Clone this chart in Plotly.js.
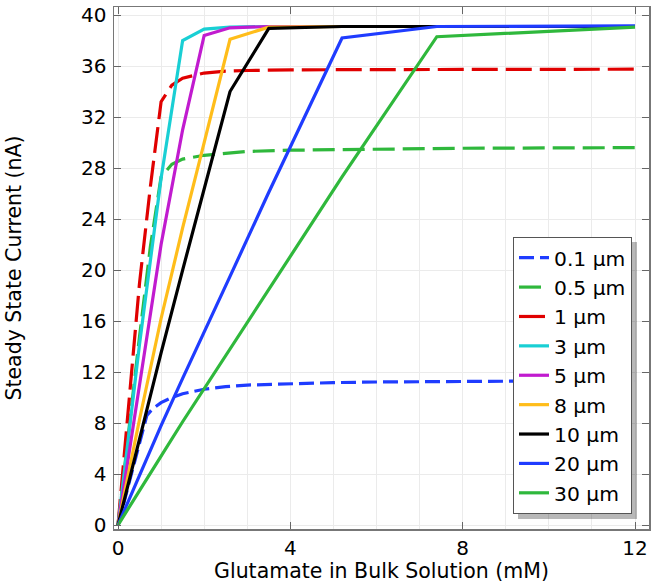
<!DOCTYPE html>
<html>
<head>
<meta charset="utf-8">
<script src="https://cdn.plot.ly/plotly-3.0.1.min.js"></script>
<style>html,body{margin:0;padding:0;background:#fff;}#chart{width:660px;height:585px;}</style>
</head>
<body>
<div id="chart"></div>
<script>
// ---- data ----
const seriesNames = ["0.1 µm", "0.5 µm", "1 µm", "3 µm", "5 µm", "8 µm", "10 µm", "20 µm", "30 µm"];

// dashed curves (small electrodes)
const x_01 = [0, 0.67, 0.8, 1, 1.25, 1.5, 2, 2.5, 3, 4, 5, 6, 8, 10, 12];
const y_01 = [0, 8.6, 9.1, 9.6, 10.0, 10.3, 10.65, 10.85, 10.98, 11.1, 11.17, 11.22, 11.28, 11.3, 11.32];

const x_05 = [0, 0.25, 0.5, 0.75, 1.0, 1.25, 1.5, 2, 2.5, 3, 4, 6, 8, 12];
const y_05 = [0, 7.5, 14.8, 21.8, 27.3, 28.3, 28.7, 29.0, 29.15, 29.3, 29.4, 29.5, 29.55, 29.6];

const x_1 = [0, 0.25, 0.5, 0.75, 1.0, 1.25, 1.5, 2, 2.5, 3, 4, 6, 8, 12];
const y_1 = [0, 9.8, 19.0, 26.5, 33.2, 34.5, 35.05, 35.45, 35.6, 35.65, 35.7, 35.72, 35.74, 35.75];

// solid curves (larger electrodes)
const xSolid = [0, 0.5, 1, 1.5, 2, 2.6, 3.5, 5.2, 7.4, 12];
const y_3  = [0, 14.2, 27.2, 38.0, 38.9, 39.05, 39.1, 39.1, 39.1, 39.1];
const y_5  = [0, 11.2, 22.0, 31.0, 38.4, 39.0, 39.1, 39.1, 39.1, 39.1];
const y_8  = [0, 8.3, 16.2, 23.3, 30.0, 38.1, 39.05, 39.1, 39.1, 39.1];
const y_10 = [0, 6.8, 13.5, 20.0, 26.3, 34.0, 38.95, 39.1, 39.1, 39.1];
const y_20 = [0, 3.9, 7.8, 11.5, 15.1, 19.5, 26.1, 38.2, 39.1, 39.15];
const y_30 = [0, 2.75, 5.4, 8.1, 10.7, 13.8, 18.5, 27.3, 38.3, 39.05];

const xTicks = [0, 4, 8, 12];
const yTicks = [0, 4, 8, 12, 16, 20, 24, 28, 32, 36, 40];

// ---- styles ----
const FONT = "DejaVu Sans, Verdana, sans-serif";
const BLUE = "#1f3cff", GREEN = "#2fb83c", RED = "#e00000", CYAN = "#19cfd4",
      MAGENTA = "#c11bcf", YELLOW = "#ffbd1a", BLACK = "#000000";

function tr(x, y, name, color, dash) {
  return {x: x, y: y, name: name, type: "scatter", mode: "lines",
          line: {color: color, width: 3.2, dash: dash || "solid"}};
}

const data = [
  tr(x_01, y_01, seriesNames[0], BLUE, "15px,6px"),
  tr(x_05, y_05, seriesNames[1], GREEN, "22px,8px"),
  tr(x_1,  y_1,  seriesNames[2], RED, "26px,8px"),
  tr(xSolid, y_3,  seriesNames[3], CYAN),
  tr(xSolid, y_5,  seriesNames[4], MAGENTA),
  tr(xSolid, y_8,  seriesNames[5], YELLOW),
  tr(xSolid, y_10, seriesNames[6], BLACK),
  tr(xSolid, y_20, seriesNames[7], BLUE),
  tr(xSolid, y_30, seriesNames[8], GREEN)
];

const L = 114, R = 11, T = 7, B = 56, W = 660, H = 585;
const pw = W - L - R, ph = H - T - B;
function px2x(p) { return (p - L) / pw; }
function px2y(p) { return (H - B - p) / ph; }

const layout = {
  width: W, height: H,
  margin: {l: L, r: R, t: T, b: B},
  paper_bgcolor: "#ffffff", plot_bgcolor: "#ffffff",
  font: {family: FONT, size: 20, color: "#000"},
  showlegend: true,
  legend: {
    x: px2x(513), y: px2y(237), xanchor: "left", yanchor: "top",
    bgcolor: "#ffffff", bordercolor: "#555555", borderwidth: 1,
    font: {family: FONT, size: 20.3, color: "#000"},
    itemwidth: 30
  },
  xaxis: {
    range: [-0.093, 12.325],
    tickvals: xTicks, ticktext: xTicks.map(String),
    ticks: "inside", ticklen: 7, tickcolor: "#666", tickwidth: 1,
    showline: true, linecolor: "#777", linewidth: 1.5, mirror: "ticks",
    showgrid: true, gridcolor: "#ebebeb", gridwidth: 1,
    minor: {dtick: 1, tick0: 0, showgrid: true, gridcolor: "#ebebeb", gridwidth: 1, ticks: ""},
    zeroline: false,
    tickfont: {family: FONT, size: 20, color: "#000"},
    title: {text: "Glutamate in Bulk Solution (mM)", font: {family: FONT, size: 20.5, color: "#000"}, standoff: 4}
  },
  yaxis: {
    range: [-0.31, 40.63],
    tickvals: yTicks, ticktext: yTicks.map(String),
    ticks: "inside", ticklen: 7, tickcolor: "#666", tickwidth: 1,
    showline: true, linecolor: "#777", linewidth: 1.5, mirror: "ticks",
    showgrid: true, gridcolor: "#ebebeb", gridwidth: 1,
    zeroline: false,
    tickfont: {family: FONT, size: 20, color: "#000"},
    ticklabelstandoff: 2,
    title: {text: "Steady State Current (nA)", font: {family: FONT, size: 20.5, color: "#000"}, standoff: 54}
  },
  shapes: [{
    type: "rect", xref: "paper", yref: "paper", layer: "above",
    x0: px2x(518), x1: px2x(637), y0: px2y(519), y1: px2y(242),
    fillcolor: "rgba(0,0,0,0.28)", line: {width: 0}
  }]
};

Plotly.newPlot("chart", data, layout, {displayModeBar: false, staticPlot: true});
</script>
</body>
</html>
